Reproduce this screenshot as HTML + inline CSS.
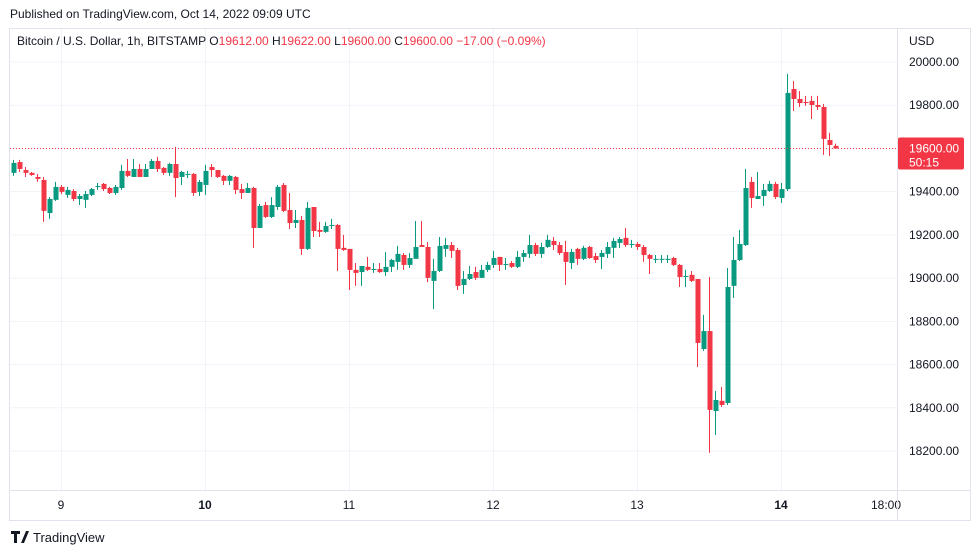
<!DOCTYPE html>
<html><head><meta charset="utf-8"><style>
body{margin:0;background:#fff;width:979px;height:555px;overflow:hidden;font-family:"Liberation Sans",sans-serif;}
svg{position:absolute;left:0;top:0}
</style></head><body>
<svg id="c" width="979" height="555"></svg>
<script>
const opens=[19487,19537,19500,19487,19468,19454,19301,19362,19422,19385,19403,19366,19362,19385,19426,19436,19417,19394,19417,19496,19468,19505,19468,19505,19542,19510,19487,19528,19468,19482,19482,19399,19431,19514,19500,19473,19450,19468,19412,19394,19417,19232,19338,19283,19329,19431,19315,19255,19269,19135,19329,19223,19214,19246,19246,19140,19135,19038,19028,19052,19042,19042,19028,19052,19075,19107,19061,19089,19153,19144,18987,19033,19135,19153,19130,18968,18996,19028,19001,19038,19061,19098,19065,19070,19052,19098,19112,19153,19112,19144,19172,19153,19121,19070,19135,19089,19144,19102,19098,19112,19140,19163,19186,19158,19158,19144,19107,19089,19089,19084,19093,19061,19010,19015,18996,18672,18755,18385,18432,18422,18964,19084,19153,19445,19366,19380,19403,19436,19371,19412,19875,19829,19815,19820,19801,19792,19639,19612];
const highs=[19547,19547,19514,19491,19482,19468,19375,19445,19431,19422,19412,19389,19403,19417,19440,19440,19422,19431,19524,19551,19551,19528,19528,19551,19561,19514,19533,19607,19496,19496,19487,19454,19524,19528,19500,19477,19477,19473,19436,19440,19422,19343,19352,19375,19431,19440,19394,19315,19288,19352,19329,19260,19260,19274,19251,19200,19135,19070,19056,19098,19070,19070,19121,19089,19149,19116,19116,19264,19264,19167,19089,19190,19186,19167,19140,19033,19056,19052,19061,19075,19126,19098,19093,19079,19126,19130,19200,19163,19163,19200,19190,19167,19172,19135,19140,19149,19149,19116,19130,19167,19186,19190,19232,19177,19167,19153,19112,19107,19107,19107,19098,19065,19038,19033,18996,18830,19005,18478,18496,19047,19190,19223,19505,19468,19491,19436,19450,19445,19440,19945,19912,19866,19843,19843,19843,19806,19672,19622];
const lows=[19473,19491,19468,19473,19445,19260,19274,19357,19389,19371,19357,19338,19325,19380,19408,19403,19389,19385,19408,19468,19468,19468,19468,19505,19491,19477,19473,19375,19431,19463,19380,19380,19385,19468,19463,19431,19431,19389,19366,19394,19140,19232,19278,19278,19315,19306,19227,19232,19107,19130,19190,19190,19209,19227,19033,19126,18945,18964,18964,19033,19024,19024,19010,19028,19038,19038,19047,19093,19144,18982,18857,19028,19098,19093,18945,18927,18991,18991,19001,19028,19047,19033,19038,19047,19047,19075,19093,19102,19093,19140,19130,19107,18968,19042,19061,19084,19089,19070,19042,19093,19093,19140,19144,19140,19130,19075,19019,19070,19070,19070,19056,18959,18959,18982,18589,18663,18191,18274,18404,18413,18908,19079,19149,19325,19366,19334,19399,19366,19348,19403,19773,19792,19797,19736,19778,19570,19565,19598];
const closes=[19533,19505,19487,19477,19459,19311,19366,19422,19399,19408,19366,19380,19389,19412,19426,19412,19394,19422,19496,19473,19505,19468,19505,19542,19505,19487,19528,19463,19491,19482,19394,19445,19496,19500,19468,19450,19473,19408,19394,19417,19232,19334,19283,19338,19422,19311,19255,19269,19135,19325,19218,19214,19241,19246,19135,19130,19038,19024,19056,19038,19042,19028,19052,19084,19112,19061,19093,19144,19144,19001,19033,19149,19153,19126,18964,18996,19019,19001,19038,19061,19093,19061,19065,19052,19098,19116,19153,19112,19144,19177,19153,19116,19075,19121,19089,19140,19093,19084,19116,19144,19172,19181,19153,19158,19144,19107,19089,19089,19089,19089,19061,19005,19010,18987,18700,18755,18390,18436,18413,18959,19084,19158,19417,19371,19380,19408,19436,19375,19412,19857,19829,19810,19810,19801,19792,19644,19616,19600];
const priceTicks=[18200,18400,18600,18800,19000,19200,19400,19600,19800,20000];
const timeLabels=["9","10","11","12","13","14","18:00"];
const timeIdx=[8,32,56,80,104,128,146];
const lastPrice=19600;

const NS="http://www.w3.org/2000/svg";
const svg=document.getElementById('c');
function el(t,a,p){const e=document.createElementNS(NS,t);for(const k in a)e.setAttribute(k,a[k]);(p||svg).appendChild(e);return e;}
const y=p=>62+(20000-p)*0.2161;
const x=i=>13+6*i;
const G='#089981',R='#f23645';
let f=el('rect',{x:9.5,y:28.5,width:961,height:492,fill:'none',stroke:'#e0e3eb'});

priceTicks.forEach(p=>{let l=el('line',{x1:10,x2:897,y1:y(p),y2:y(p),stroke:'#f0f3fa'});

let t=el('text',{x:909,y:y(p)+4,'font-size':12,fill:'#131722'});t.textContent=p.toFixed(2);
});
timeLabels.forEach((s,k)=>{const xi=k==6?886:x(timeIdx[k]);
if(k<6){let l=el('line',{x1:xi+0.5,x2:xi+0.5,y1:29,y2:490,stroke:'#f0f3fa'});}
let t=el('text',{x:xi,y:509,'font-size':12,fill:'#131722','text-anchor':'middle','font-weight':(s=='10'||s=='14')?'bold':'normal'});t.textContent=s;
});
el('line',{x1:897.5,x2:897.5,y1:29,y2:520,stroke:'#e0e3eb'});
el('line',{x1:10,x2:970,y1:490.5,y2:490.5,stroke:'#e0e3eb'});
for(let i=0;i<opens.length;i++){
 const o=opens[i],c=closes[i],col=c>=o?G:R,cx=x(i)+0.5;
 const g=el('g',{});
 
 el('line',{x1:cx,x2:cx,y1:y(highs[i]),y2:y(lows[i]),stroke:col,'stroke-width':1},g);
 const t=Math.min(y(o),y(c)),h=Math.max(1,Math.abs(y(o)-y(c)));
 el('rect',{x:cx-2,y:t,width:5,height:h,fill:col},g);
}
const ly=Math.round(y(lastPrice))+0.5;
let pl=el('line',{x1:10,x2:897,y1:ly,y2:ly,stroke:R,'stroke-dasharray':'1,2'});

let pb=el('rect',{x:898,y:ly-11,width:66,height:32,fill:R,rx:2});

let t1=el('text',{x:909,y:ly+4,'font-size':12,fill:'#fff'});t1.textContent=lastPrice.toFixed(2);
let t2=el('text',{x:909,y:ly+18,'font-size':12,fill:'#fff'});t2.textContent='50:15';
let h=el('text',{x:10,y:18,'font-size':12,fill:'#131722'});h.textContent='Published on TradingView.com, Oct 14, 2022 09:09 UTC';

let u=el('text',{x:909,y:45,'font-size':12,fill:'#131722'});u.textContent='USD';

let tt=el('text',{x:17,y:45,'font-size':12,fill:'#131722'});

tt.setAttribute('xml:space','preserve');
tt.innerHTML='Bitcoin / U.S. Dollar, 1h, BITSTAMP  <tspan>O</tspan><tspan fill="#f23645">19612.00</tspan> <tspan>H</tspan><tspan fill="#f23645">19622.00</tspan> <tspan>L</tspan><tspan fill="#f23645">19600.00</tspan> <tspan>C</tspan><tspan fill="#f23645">19600.00 −17.00 (−0.09%)</tspan>';
let lg=el('g',{});
el('path',{d:'M11 531h9v3h-3v9h-3v-9h-3z M21 543l5-12h3l-5 12z',fill:'#131722'},lg);
let lt=el('text',{x:33,y:542,'font-size':13,fill:'#131722'},lg);lt.textContent='TradingView';
</script>
</body></html>
